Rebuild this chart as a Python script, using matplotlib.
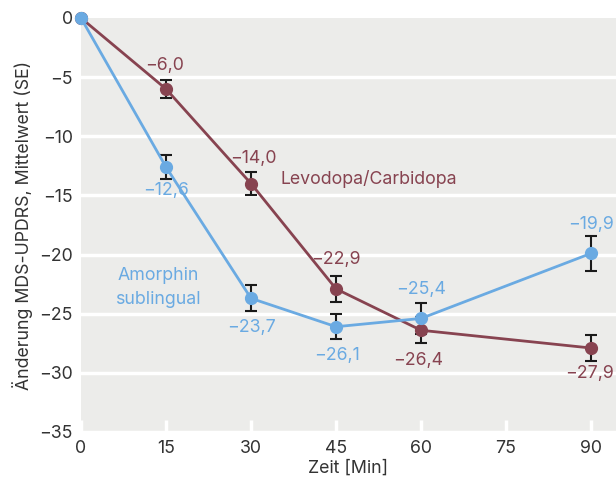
import numpy as np
import matplotlib.pyplot as plt

plt.rcParams['font.family'] = ['Inter', 'DejaVu Sans']

zeit = [0, 15, 30, 45, 60, 90]
levodopa = [0.0, -6.0, -14.0, -22.9, -26.4, -27.9]
levodopa_se = [0.0, 0.75, 1.0, 1.1, 1.1, 1.1]
amorphin = [0.0, -12.6, -23.7, -26.1, -25.4, -19.9]
amorphin_se = [0.0, 1.0, 1.1, 1.05, 1.3, 1.5]

x_ticks = [0, 15, 30, 45, 60, 75, 90]
y_ticks = [0, -5, -10, -15, -20, -25, -30, -35]

c_levo = '#874350'
c_amor = '#6aaae2'
c_text = '#333333'
bg = '#ececea'
fs = 12.8

fig = plt.figure(figsize=(6.16, 4.79), dpi=100)
ax = fig.add_axes([81 / 616, 47 / 479, 535 / 616, 414 / 479])
ax.set_facecolor(bg)

for y in y_ticks[1:]:
    ax.axhline(y, color='white', lw=2.5, zorder=1)

ax.errorbar(zeit[1:], levodopa[1:], yerr=levodopa_se[1:], fmt='none', ecolor='#1a1a1a',
            elinewidth=1.5, capsize=4, capthick=1.5, zorder=3)
ax.errorbar(zeit[1:], amorphin[1:], yerr=amorphin_se[1:], fmt='none', ecolor='#1a1a1a',
            elinewidth=1.5, capsize=4, capthick=1.5, zorder=3)
ax.plot(zeit, levodopa, color=c_levo, lw=2.0, marker='o', ms=8.5, zorder=4, clip_on=False)
ax.plot(zeit, amorphin, color=c_amor, lw=2.0, marker='o', ms=8.5, zorder=5, clip_on=False)

def fmt(v):
    return ('\u2212%.1f' % abs(v)).replace('.', ',')

# value labels: offset from the point, in points
levo_off = [None, (-1, 17), (2, 18), (0, 21), (-2, -22), (-1, -18)]
amor_off = [None, (0, -17), (0, -21), (1, -21), (0, 21), (0, 21)]
for xv, yv, off in zip(zeit, levodopa, levo_off):
    if off is None:
        continue
    ax.annotate(fmt(yv), (xv, yv), xytext=off, textcoords='offset points',
                ha='center', va='center', color=c_levo, fontsize=fs)
for xv, yv, off in zip(zeit, amorphin, amor_off):
    if off is None:
        continue
    ax.annotate(fmt(yv), (xv, yv), xytext=off, textcoords='offset points',
                ha='center', va='center', color=c_amor, fontsize=fs)

ax.text(35.2, -13.6, 'Levodopa/Carbidopa', color=c_levo, fontsize=fs, ha='left', va='center')
ax.text(13.6, -22.8, 'Amorphin\nsublingual', color=c_amor, fontsize=fs, ha='center',
        va='center', linespacing=1.55)

ax.set_xlim(0, 94.4)
ax.set_ylim(-35, 0)
ax.set_xticks(x_ticks)
ax.set_yticks(y_ticks)
ax.set_yticklabels(['0'] + ['\u2212%d' % abs(v) for v in y_ticks[1:]])
ax.tick_params(axis='y', length=0, pad=6, labelsize=fs, labelcolor=c_text)
ax.tick_params(axis='x', direction='in', length=9, width=2.5, color='white', pad=6,
               labelsize=fs, labelcolor=c_text)
for s in ax.spines.values():
    s.set_visible(False)

ax.set_xlabel('Zeit [Min]', fontsize=fs, color=c_text, labelpad=2)
ax.set_ylabel('Änderung MDS-UPDRS, Mittelwert (SE)', fontsize=fs, color=c_text, labelpad=4)

fig.savefig('out.png', dpi=100, facecolor='white')
